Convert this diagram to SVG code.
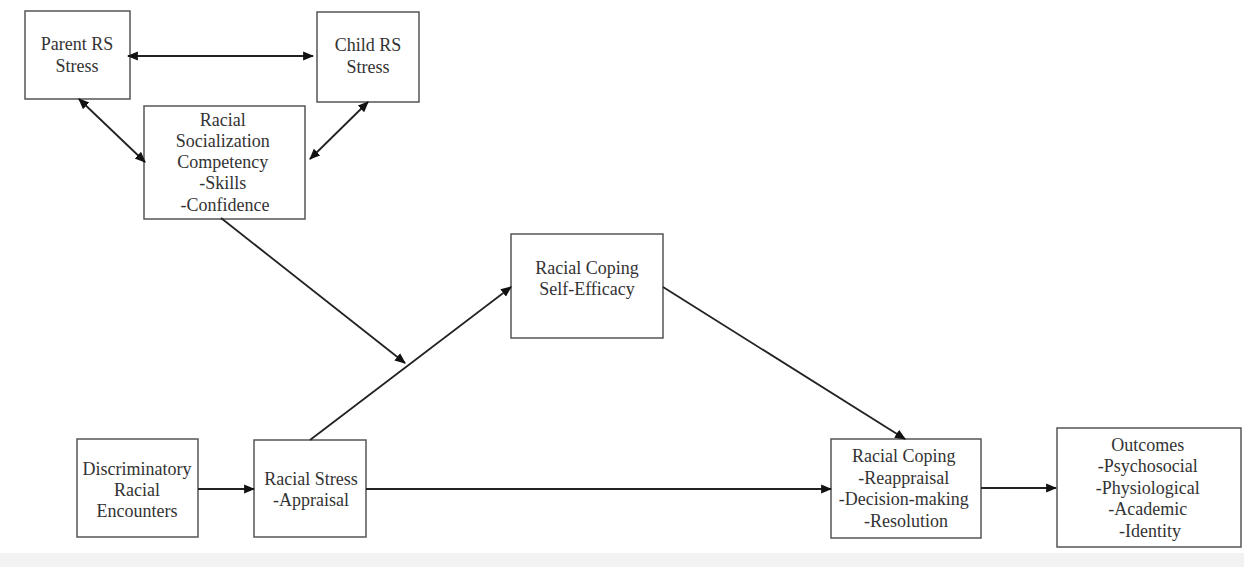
<svg xmlns="http://www.w3.org/2000/svg" width="1244" height="567" viewBox="0 0 1244 567">
  <style>
    .box { fill: #ffffff; stroke: #555555; stroke-width: 1.5; }
    .lbl { font-family: "Liberation Serif", "Times New Roman", serif; font-size: 18px; fill: #333333; text-anchor: middle; }
    .edge { stroke: #222222; stroke-width: 1.8; fill: none; }
  </style>
  <defs>
    <marker id="arrow" viewBox="0 0 10 10" refX="9" refY="5" markerWidth="11" markerHeight="11" markerUnits="userSpaceOnUse" orient="auto">
      <path d="M0,0.8 L10,5 L0,9.2 Z" fill="#111111"/>
    </marker>
    <marker id="arrowStart" viewBox="0 0 10 10" refX="1" refY="5" markerWidth="11" markerHeight="11" markerUnits="userSpaceOnUse" orient="auto">
      <path d="M10,0.8 L0,5 L10,9.2 Z" fill="#111111"/>
    </marker>
  </defs>

  <rect x="0" y="0" width="1244" height="567" fill="#ffffff"/>
  <rect x="0" y="553" width="1244" height="14" fill="#f2f2f2"/>

  <g id="parent-rs-stress">
    <rect class="box" x="25" y="11" width="105" height="88"/>
    <text class="lbl"><tspan x="77" y="50">Parent RS</tspan><tspan x="77" y="72">Stress</tspan></text>
  </g>

  <g id="child-rs-stress">
    <rect class="box" x="317" y="12" width="102" height="90"/>
    <text class="lbl"><tspan x="368" y="51">Child RS</tspan><tspan x="368" y="73">Stress</tspan></text>
  </g>

  <g id="racial-socialization-competency">
    <rect class="box" x="144" y="106" width="161" height="113"/>
    <text class="lbl">
      <tspan x="225" y="126">Racial</tspan>
      <tspan x="225" y="147">Socialization</tspan>
      <tspan x="225" y="168">Competency</tspan>
      <tspan x="225" y="189">-Skills</tspan>
      <tspan x="225" y="211">-Confidence</tspan>
    </text>
  </g>

  <g id="racial-coping-self-efficacy">
    <rect class="box" x="511" y="234" width="152" height="104"/>
    <text class="lbl"><tspan x="587" y="274">Racial Coping</tspan><tspan x="587" y="295">Self-Efficacy</tspan></text>
  </g>

  <g id="discriminatory-racial-encounters">
    <rect class="box" x="77" y="439" width="121" height="98"/>
    <text class="lbl"><tspan x="137" y="475">Discriminatory</tspan><tspan x="137" y="496">Racial</tspan><tspan x="137" y="517">Encounters</tspan></text>
  </g>

  <g id="racial-stress-appraisal">
    <rect class="box" x="254" y="440" width="112" height="97"/>
    <text class="lbl"><tspan x="311" y="485">Racial Stress</tspan><tspan x="311" y="506">-Appraisal</tspan></text>
  </g>

  <g id="racial-coping">
    <rect class="box" x="831" y="439" width="150" height="99"/>
    <text class="lbl">
      <tspan x="906" y="462">Racial Coping</tspan>
      <tspan x="906" y="484">-Reappraisal</tspan>
      <tspan x="906" y="505">-Decision-making</tspan>
      <tspan x="906" y="527">-Resolution</tspan>
    </text>
  </g>

  <g id="outcomes">
    <rect class="box" x="1057" y="428" width="184" height="119"/>
    <text class="lbl">
      <tspan x="1150" y="451">Outcomes</tspan>
      <tspan x="1150" y="472">-Psychosocial</tspan>
      <tspan x="1150" y="494">-Physiological</tspan>
      <tspan x="1150" y="515">-Academic</tspan>
      <tspan x="1150" y="537">-Identity</tspan>
    </text>
  </g>

  <g id="connectors">
    <line class="edge" x1="128" y1="56" x2="313" y2="56" marker-start="url(#arrowStart)" marker-end="url(#arrow)"/>
    <line class="edge" x1="79" y1="99" x2="145" y2="162" marker-start="url(#arrowStart)" marker-end="url(#arrow)"/>
    <line class="edge" x1="368" y1="102" x2="310" y2="159" marker-start="url(#arrowStart)" marker-end="url(#arrow)"/>
    <line class="edge" x1="221" y1="218" x2="405" y2="363" marker-end="url(#arrow)"/>
    <line class="edge" x1="310" y1="440" x2="511" y2="287" marker-end="url(#arrow)"/>
    <line class="edge" x1="663" y1="287" x2="905" y2="439" marker-end="url(#arrow)"/>
    <line class="edge" x1="198" y1="489" x2="254" y2="489" marker-end="url(#arrow)"/>
    <line class="edge" x1="366" y1="489" x2="831" y2="489" marker-end="url(#arrow)"/>
    <line class="edge" x1="981" y1="488" x2="1056" y2="488" marker-end="url(#arrow)"/>
  </g>
</svg>
